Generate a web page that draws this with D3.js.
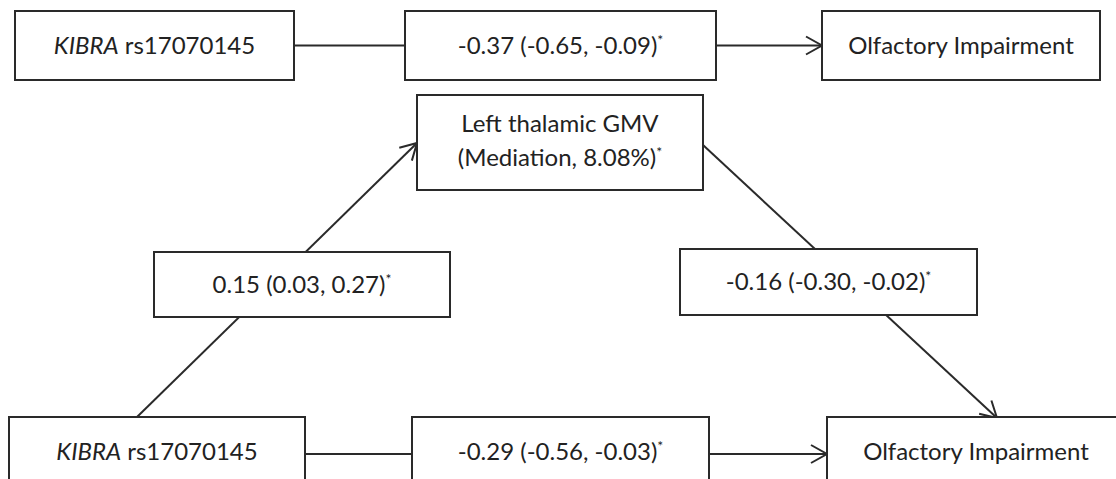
<!DOCTYPE html>
<html>
<head>
<meta charset="utf-8">
<script src="https://cdn.jsdelivr.net/npm/d3@7"></script>
<style>
  body { margin: 0; background: #fff; }
  svg { display: block; }
  text { font-family: Lato, "Open Sans", sans-serif; fill: #222; }
</style>
</head>
<body>
<div id="graph"></div>
<script>
// values
const gene = 'KIBRA'
const snp = 'rs17070145'
const outcome = 'Olfactory Impairment'
const mediator = 'Left thalamic GMV'
const mediationPct = 8.08
const paths = ['total', 'a', 'b', 'direct']
const estimates = [-0.37, 0.15, -0.16, -0.29]
const ciLow = [-0.65, 0.03, -0.30, -0.56]
const ciHigh = [-0.09, 0.27, -0.02, -0.03]
const significant = [true, true, true, true]

const width = 1116
const height = 479
const stroke = '#2a2a2a'

// box layout (px)
const layout = {
  geneTop: {x: 15, y: 11, w: 279, h: 69},
  total: {x: 405, y: 11, w: 311, h: 69},
  outTop: {x: 822, y: 11, w: 278, h: 69},
  med: {x: 417, y: 95, w: 286, h: 95},
  a: {x: 154, y: 252, w: 296, h: 65},
  b: {x: 680, y: 249, w: 297, h: 66},
  geneBot: {x: 9, y: 417, w: 296, h: 70},
  direct: {x: 412, y: 417, w: 297, h: 70},
  outBot: {x: 827, y: 417, w: 298, h: 70}
}

const fmt = d3.formatLocale({decimal: '.', thousands: ',', grouping: [3], currency: ['', ''], minus: '-'}).format('.2f')
const effectText = i => `${fmt(estimates[i])} (${fmt(ciLow[i])}, ${fmt(ciHigh[i])})`

const svg = d3.select('#graph').append('svg')
  .attr('width', width)
  .attr('height', height)

svg.append('defs').append('marker')
  .attr('id', 'arrow')
  .attr('viewBox', '-20 -12 24 24')
  .attr('refX', 0)
  .attr('refY', 0)
  .attr('markerWidth', 24)
  .attr('markerHeight', 24)
  .attr('markerUnits', 'userSpaceOnUse')
  .attr('orient', 'auto')
  .append('path')
  .attr('d', 'M-16,-9L0,0L-16,9')
  .attr('fill', 'none')
  .attr('stroke', stroke)
  .attr('stroke-width', 2)

const L = layout
const cy = b => b.y + b.h / 2
// connectors: [x1, y1, x2, y2, arrow]
const links = [
  [L.geneTop.x + L.geneTop.w, cy(L.geneTop), L.total.x, cy(L.total), false],
  [L.total.x + L.total.w, cy(L.total), L.outTop.x, cy(L.outTop), true],
  [L.geneBot.x + 128, L.geneBot.y, L.med.x, L.med.y + 48, true],
  [L.med.x + L.med.w, L.med.y + 50, L.outBot.x + 170, L.outBot.y + 1, true],
  [L.geneBot.x + L.geneBot.w, cy(L.direct) + 2, L.direct.x, cy(L.direct) + 2, false],
  [L.direct.x + L.direct.w, cy(L.direct) + 2, L.outBot.x, cy(L.direct) + 2, true]
]

svg.append('g').selectAll('line')
  .data(links)
  .join('line')
  .attr('x1', d => d[0]).attr('y1', d => d[1])
  .attr('x2', d => d[2]).attr('y2', d => d[3])
  .attr('stroke', stroke)
  .attr('stroke-width', 2)
  .attr('marker-end', d => d[4] ? 'url(#arrow)' : null)

const nodes = [
  {key: 'geneTop', kind: 'gene'},
  {key: 'total', kind: 'effect', i: 0},
  {key: 'outTop', kind: 'out'},
  {key: 'med', kind: 'med'},
  {key: 'a', kind: 'effect', i: 1},
  {key: 'b', kind: 'effect', i: 2},
  {key: 'geneBot', kind: 'gene'},
  {key: 'direct', kind: 'effect', i: 3},
  {key: 'outBot', kind: 'out'}
]

const g = svg.append('g').selectAll('g')
  .data(nodes)
  .join('g')
  .attr('transform', d => `translate(${L[d.key].x},${L[d.key].y})`)

g.append('rect')
  .attr('width', d => L[d.key].w)
  .attr('height', d => L[d.key].h)
  .attr('fill', '#fff')
  .attr('stroke', stroke)
  .attr('stroke-width', 2)

const star = (t, dy) => t.append('tspan').attr('font-size', 14).attr('dy', dy).text('*')

g.each(function (d) {
  const b = L[d.key]
  const sel = d3.select(this)
  const t = sel.append('text')
    .attr('x', b.w / 2)
    .attr('text-anchor', 'middle')
    .attr('font-size', 24)
  if (d.kind === 'med') {
    t.attr('y', b.h / 2 - 11)
    t.append('tspan').attr('x', b.w / 2).text(mediator)
    const t2 = sel.append('text')
      .attr('x', b.w / 2).attr('y', b.h / 2 + 23)
      .attr('text-anchor', 'middle').attr('font-size', 24)
    t2.append('tspan').text(`(Mediation, ${mediationPct.toFixed(2)}%)`)
    star(t2, -9)
    return
  }
  t.attr('y', b.h / 2 + 8)
  if (d.kind === 'gene') {
    t.append('tspan').attr('font-style', 'italic').text(gene)
    t.append('tspan').text(' ' + snp)
  } else if (d.kind === 'out') {
    t.text(outcome)
  } else {
    t.append('tspan').text(effectText(d.i))
    if (significant[d.i]) star(t, -9)
  }
})
</script>
</body>
</html>
